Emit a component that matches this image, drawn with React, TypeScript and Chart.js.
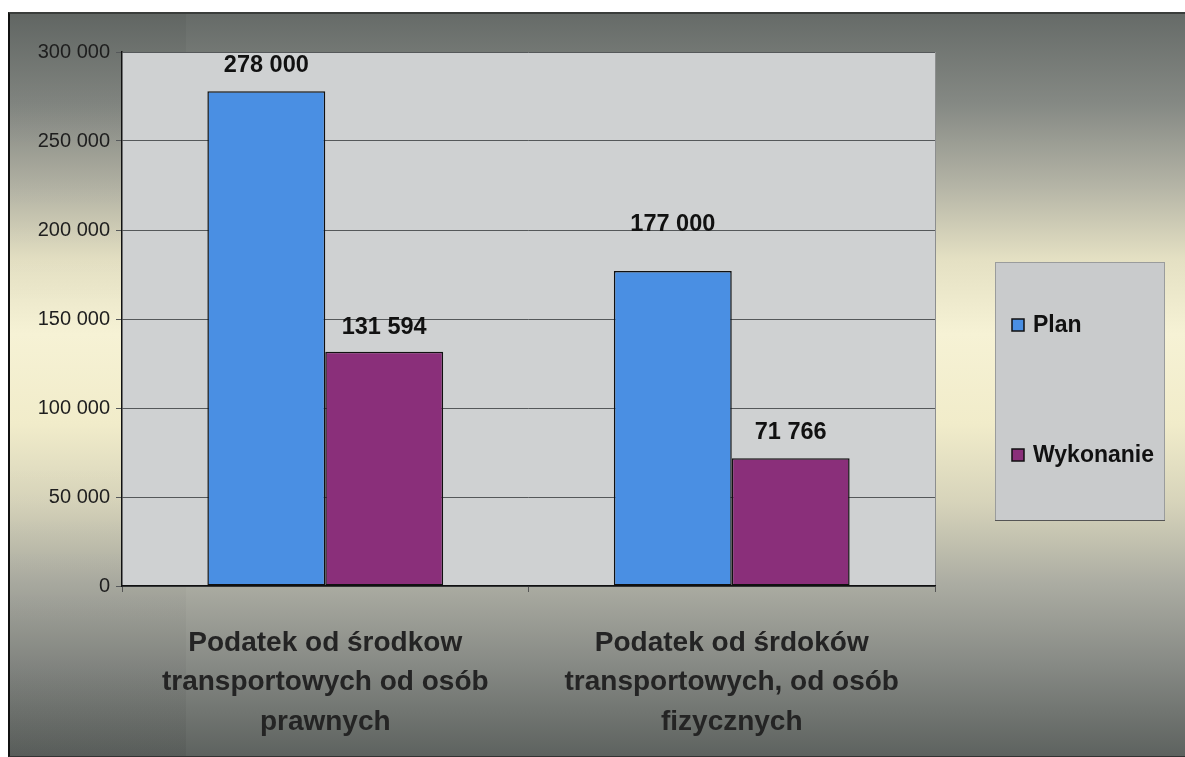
import React, { useEffect, useRef } from "react";
import { Chart, registerables } from "chart.js";

Chart.register(...registerables);

const categories: string[][] = [
  ["Podatek od środkow", "transportowych od osób", "prawnych"],
  ["Podatek od śrdoków", "transportowych, od osób", "fizycznych"],
];
const seriesNames = ["Plan", "Wykonanie"];
const planValues = [278000, 177000];
const wykonanieValues = [131594, 71766];
const yTicks = [0, 50000, 100000, 150000, 200000, 250000, 300000];
const seriesColors = ["#4a8fe3", "#8a2f7a"];

const FONT = "'Liberation Sans', Arial, Helvetica, sans-serif";

const fmt = (v: number) => String(Math.round(v)).replace(/\B(?=(\d{3})+(?!\d))/g, " ");

const plotBg = {
  id: "plotBg",
  beforeDraw(chart: any) {
    const { ctx, chartArea: a } = chart;
    ctx.save();
    ctx.fillStyle = "#cfd1d2";
    ctx.fillRect(a.left, a.top, a.right - a.left, a.bottom - a.top);
    ctx.strokeStyle = "#8c8e8e";
    ctx.lineWidth = 1;
    ctx.beginPath();
    ctx.moveTo(a.right + 0.5, a.top);
    ctx.lineTo(a.right + 0.5, a.bottom);
    ctx.stroke();
    ctx.restore();
  },
};

const valueLabels = {
  id: "valueLabels",
  afterDatasetsDraw(chart: any, _args: any, opts: any) {
    const { ctx } = chart;
    ctx.save();
    ctx.font = `bold 23.5px ${FONT}`;
    ctx.fillStyle = "#111";
    ctx.textAlign = "center";
    ctx.textBaseline = "middle";
    chart.data.datasets.forEach((ds: any, di: number) => {
      const meta = chart.getDatasetMeta(di);
      meta.data.forEach((bar: any, i: number) => {
        const off = (opts.offsets && opts.offsets[di] && opts.offsets[di][i]) || 25;
        ctx.fillText(fmt(ds.data[i]), bar.x, bar.y - off);
      });
    });
    ctx.restore();
  },
};

const customLegend = {
  id: "customLegend",
  afterDraw(chart: any, _args: any, opts: any) {
    const { ctx } = chart;
    const b = opts.box;
    ctx.save();
    ctx.fillStyle = "#c9cbcc";
    ctx.fillRect(b.x, b.y, b.w, b.h);
    ctx.strokeStyle = "#9a9c9c";
    ctx.lineWidth = 1;
    ctx.strokeRect(b.x + 0.5, b.y + 0.5, b.w - 1, b.h - 1);
    ctx.strokeStyle = "#555";
    ctx.beginPath();
    ctx.moveTo(b.x, b.y + b.h - 0.5);
    ctx.lineTo(b.x + b.w, b.y + b.h - 0.5);
    ctx.stroke();
    ctx.font = `bold 23px ${FONT}`;
    ctx.textBaseline = "middle";
    ctx.textAlign = "left";
    chart.data.datasets.forEach((ds: any, i: number) => {
      const cy = opts.itemY[i];
      ctx.fillStyle = ds.backgroundColor;
      ctx.fillRect(b.x + 17, cy - 6, 12, 12);
      ctx.strokeStyle = "#111";
      ctx.lineWidth = 1.5;
      ctx.strokeRect(b.x + 17, cy - 6, 12, 12);
      ctx.fillStyle = "#111";
      ctx.fillText(ds.label, b.x + 38, cy + 1);
    });
    ctx.restore();
  },
};

export default function App() {
  const canvasRef = useRef<HTMLCanvasElement | null>(null);

  useEffect(() => {
    document.body.style.margin = "0";
    if (!canvasRef.current) return;
    const chart = new Chart(canvasRef.current, {
      type: "bar",
      data: {
        labels: categories,
        datasets: [
          {
            label: seriesNames[0],
            data: planValues,
            backgroundColor: seriesColors[0],
            borderColor: "#111",
            borderWidth: 1.5,
            borderSkipped: false,
          },
          {
            label: seriesNames[1],
            data: wykonanieValues,
            backgroundColor: seriesColors[1],
            borderColor: "#111",
            borderWidth: 1.5,
            borderSkipped: false,
          },
        ],
      },
      options: {
        animation: false,
        responsive: true,
        maintainAspectRatio: false,
        layout: { padding: { top: 38, right: 250, left: 0, bottom: 0 } },
        datasets: { bar: { categoryPercentage: 0.58, barPercentage: 1.0 } },
        plugins: {
          legend: { display: false },
          tooltip: { enabled: false },
          valueLabels: { offsets: [[26, 46], [24, 26]] },
          customLegend: { box: { x: 985, y: 248, w: 170, h: 259 }, itemY: [311, 441] },
        } as any,
        scales: {
          x: {
            grid: {
              drawOnChartArea: false,
              drawTicks: true,
              tickLength: 6,
              color: "#555",
            },
            border: { color: "#111", width: 1.5 },
            ticks: {
              padding: 31,
              color: "#242424",
              font: { family: FONT, size: 28, weight: "bold", lineHeight: 1.42 },
              maxRotation: 0,
              autoSkip: false,
            },
            afterFit: (s: any) => {
              s.height = 170;
            },
          },
          y: {
            min: yTicks[0],
            max: yTicks[yTicks.length - 1],
            ticks: {
              stepSize: yTicks[1] - yTicks[0],
              padding: 6,
              color: "#1e1e1e",
              font: { family: FONT, size: 20 },
              callback: (v: any) => fmt(Number(v)),
            },
            grid: {
              color: "#55585a",
              lineWidth: 1,
              drawTicks: true,
              tickLength: 6,
            },
            border: { color: "#111", width: 1.5 },
            afterFit: (s: any) => {
              s.width = 112;
            },
          },
        },
      },
      plugins: [plotBg, valueLabels, customLegend],
    });
    return () => chart.destroy();
  }, []);

  const bg =
    "linear-gradient(to bottom, #666b68 0px, #858984 90px, #b3b3a5 170px, #e4e0c3 245px, #f6f2d5 320px, #f1ecca 410px, #d6d3ba 490px, #abaca2 570px, #878a85 650px, #5c615e 745px)";

  return (
    <div style={{ position: "relative", width: 1185, height: 757, background: "#fff", overflow: "hidden" }}>
      <div
        style={{
          position: "absolute",
          left: 8,
          top: 12,
          width: 1177,
          height: 745,
          boxSizing: "border-box",
          borderLeft: "2px solid #111",
          borderTop: "2px solid #3a3d3b",
          borderBottom: "1px solid #333",
          background: bg,
        }}
      >
        <div
          style={{
            position: "absolute",
            left: 0,
            top: 0,
            width: 176,
            height: "100%",
            background: "linear-gradient(to bottom, rgba(0,0,0,0.05), rgba(0,0,0,0.0) 40%, rgba(0,0,0,0.0) 60%, rgba(0,0,0,0.06))",
          }}
        />
        <div style={{ position: "relative", width: 1175, height: 742 }}>
          <canvas ref={canvasRef} />
        </div>
      </div>
    </div>
  );
}
